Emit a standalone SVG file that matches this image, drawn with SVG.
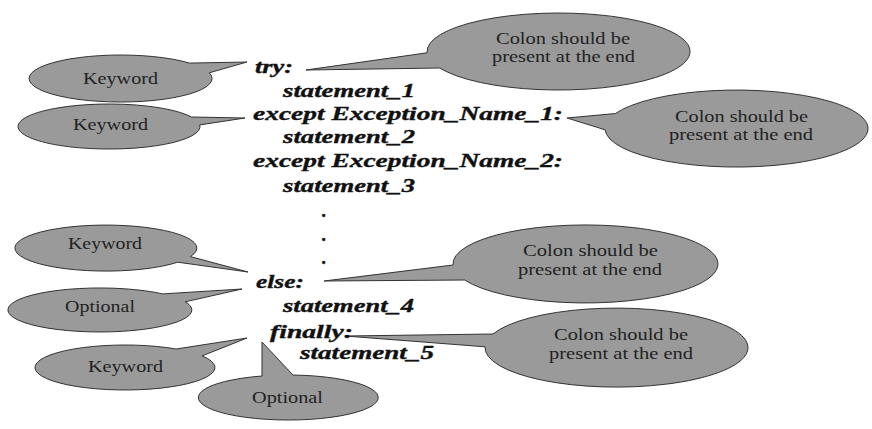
<svg xmlns="http://www.w3.org/2000/svg" width="872" height="429" viewBox="0 0 872 429">
<style>
.bub{fill:#9a9a9a;stroke:#333;stroke-width:1;stroke-linejoin:miter}
.lbl{font-family:'Liberation Serif','Times New Roman',serif;font-size:16.5px;fill:#222}
.code{font-family:'Liberation Serif','Times New Roman',serif;font-size:18.5px;font-weight:bold;font-style:italic;fill:#111;stroke:#111;stroke-width:0.35}
</style>
<rect width="872" height="429" fill="#fff"/>
<g id="callout-keyword-try">
<path class="bub" d="M189.6,63.1 L247,62 L209.3,72.8 A91.5,23.5 0 1 1 189.6,63.1 Z"/>
<text class="lbl" x="83" y="84" textLength="75" lengthAdjust="spacingAndGlyphs">Keyword</text>
</g>
<g id="callout-colon-try">
<path class="bub" d="M427.1,52.8 L306,70 L439.7,68 A131.5,38.5 0 1 0 427.1,52.8 Z"/>
<text class="lbl" x="496" y="44" textLength="134" lengthAdjust="spacingAndGlyphs">Colon should be</text>
<text class="lbl" x="492" y="62" textLength="143" lengthAdjust="spacingAndGlyphs">present at the end</text>
</g>
<g id="callout-keyword-except">
<path class="bub" d="M191.5,117 L245,118 L199.8,124.9 A91,22.5 0 1 1 191.5,117 Z"/>
<text class="lbl" x="73" y="130" textLength="75" lengthAdjust="spacingAndGlyphs">Keyword</text>
</g>
<g id="callout-colon-except">
<path class="bub" d="M615.5,113.5 L567,118 L605.1,129.8 A131.5,38.5 0 1 0 615.5,113.5 Z"/>
<text class="lbl" x="675" y="122" textLength="133" lengthAdjust="spacingAndGlyphs">Colon should be</text>
<text class="lbl" x="669" y="140" textLength="144" lengthAdjust="spacingAndGlyphs">present at the end</text>
</g>
<g id="callout-keyword-else">
<path class="bub" d="M190.4,256.6 L248,272 L177.7,262.2 A91,23 0 1 1 190.4,256.6 Z"/>
<text class="lbl" x="68" y="249" textLength="74" lengthAdjust="spacingAndGlyphs">Keyword</text>
</g>
<g id="callout-optional-else">
<path class="bub" d="M162.7,293.9 L242,289 L185.3,301.8 A92,22 0 1 1 162.7,293.9 Z"/>
<text class="lbl" x="65" y="312" textLength="70" lengthAdjust="spacingAndGlyphs">Optional</text>
</g>
<g id="callout-colon-else">
<path class="bub" d="M453,265 L324,281 L464.7,280 A132.5,39 0 1 0 453,265 Z"/>
<text class="lbl" x="523" y="256" textLength="135" lengthAdjust="spacingAndGlyphs">Colon should be</text>
<text class="lbl" x="518" y="275" textLength="144" lengthAdjust="spacingAndGlyphs">present at the end</text>
</g>
<g id="callout-keyword-finally">
<path class="bub" d="M176.2,349 L247,338 L202.1,355.9 A90,22.5 0 1 1 176.2,349 Z"/>
<text class="lbl" x="88" y="372" textLength="75" lengthAdjust="spacingAndGlyphs">Keyword</text>
</g>
<g id="callout-optional-finally">
<path class="bub" d="M262,376 L262,342 L293,375.05 A90,22.5 0 1 1 262,376 Z"/>
<text class="lbl" x="252" y="403" textLength="71" lengthAdjust="spacingAndGlyphs">Optional</text>
</g>
<g id="callout-colon-finally">
<path class="bub" d="M493,334 L345,336 L485,346.8 A131.5,39.5 0 1 0 493,334 Z"/>
<text class="lbl" x="554" y="340" textLength="134" lengthAdjust="spacingAndGlyphs">Colon should be</text>
<text class="lbl" x="549" y="359" textLength="144" lengthAdjust="spacingAndGlyphs">present at the end</text>
</g>
<g id="code">
<text class="code" x="255" y="73" textLength="38" lengthAdjust="spacingAndGlyphs">try:</text>
<text class="code" x="283" y="97" textLength="132" lengthAdjust="spacingAndGlyphs">statement_1</text>
<text class="code" x="253" y="120" textLength="310" lengthAdjust="spacingAndGlyphs">except Exception_Name_1:</text>
<text class="code" x="283" y="143" textLength="132" lengthAdjust="spacingAndGlyphs">statement_2</text>
<text class="code" x="253" y="167" textLength="310" lengthAdjust="spacingAndGlyphs">except Exception_Name_2:</text>
<text class="code" x="283" y="192" textLength="132" lengthAdjust="spacingAndGlyphs">statement_3</text>
<text class="code" x="322" y="217">.</text>
<text class="code" x="322" y="241">.</text>
<text class="code" x="322" y="264">.</text>
<text class="code" x="256" y="288" textLength="48" lengthAdjust="spacingAndGlyphs">else:</text>
<text class="code" x="283" y="312" textLength="131" lengthAdjust="spacingAndGlyphs">statement_4</text>
<text class="code" x="270" y="338" textLength="83" lengthAdjust="spacingAndGlyphs">finally:</text>
<text class="code" x="300" y="359" textLength="134" lengthAdjust="spacingAndGlyphs">statement_5</text>
</g>
</svg>
